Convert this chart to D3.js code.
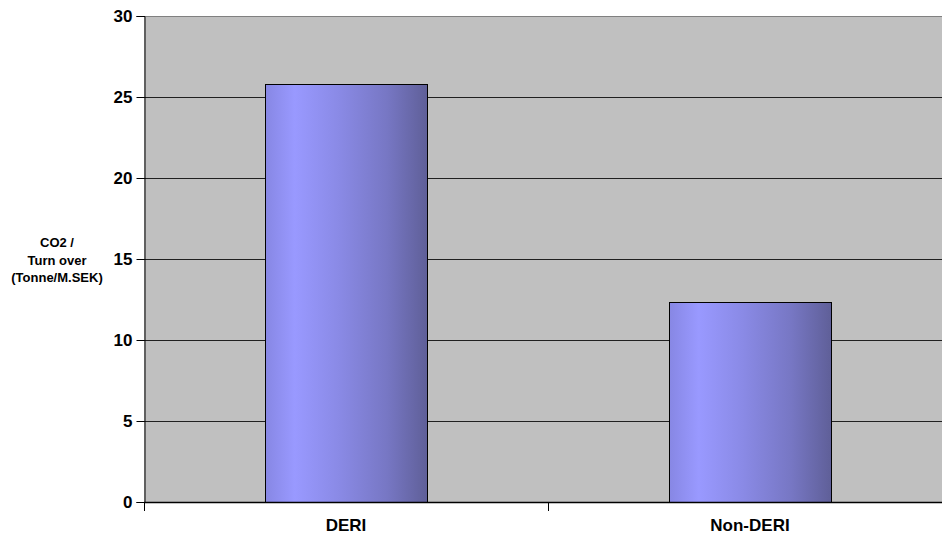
<!DOCTYPE html>
<html>
<head>
<meta charset="utf-8">
<script src="https://cdn.jsdelivr.net/npm/d3@7"></script>
<style>
  html, body { margin: 0; padding: 0; background: #ffffff; }
  svg { display: block; }
  text { font-family: "Liberation Sans", Arial, sans-serif; font-weight: bold; fill: #000; }
</style>
</head>
<body>
<svg id="chart" width="942" height="540"></svg>
<script>
// Categories and their CO2 intensity values
const categories = ["DERI", "Non-DERI"];
const co2PerTurnover = [25.8, 12.35];
const yTicks = [0, 5, 10, 15, 20, 25, 30];
const yTitleLines = ["CO2 /", "Turn over", "(Tonne/M.SEK)"];

const svg = d3.select("#chart");
const W = 942, H = 540;
const plot = { left: 144, right: 952, top: 16, bottom: 502 };

const x = d3.scaleBand()
  .domain(categories)
  .range([plot.left, plot.right])
  .paddingInner(0.6)
  .paddingOuter(0.3);

const y = d3.scaleLinear()
  .domain([0, 30])
  .range([plot.bottom, plot.top]);

// Horizontal shading for the bars
const defs = svg.append("defs");
const grad = defs.append("linearGradient")
  .attr("id", "barShade")
  .attr("x1", "0%").attr("x2", "100%")
  .attr("y1", "0%").attr("y2", "0%");
[
  { o: 0.00, c: "#8787e4" },
  { o: 0.18, c: "#9999ff" },
  { o: 0.45, c: "#8a8ae6" },
  { o: 0.75, c: "#7777c4" },
  { o: 1.00, c: "#5f5f98" }
].forEach(s => grad.append("stop").attr("offset", s.o).attr("stop-color", s.c));

// Plot background
svg.append("rect")
  .attr("x", plot.left).attr("y", plot.top)
  .attr("width", plot.right - plot.left)
  .attr("height", plot.bottom - plot.top)
  .attr("fill", "#c0c0c0");

// Top border
svg.append("line")
  .attr("x1", plot.left).attr("x2", plot.right)
  .attr("y1", plot.top + 0.5).attr("y2", plot.top + 0.5)
  .attr("stroke", "#808080").attr("stroke-width", 1);

// Horizontal gridlines
svg.append("g")
  .selectAll("line")
  .data(yTicks.filter(t => t > 0 && t < 30))
  .join("line")
  .attr("x1", plot.left).attr("x2", plot.right)
  .attr("y1", d => Math.round(y(d)) + 0.5)
  .attr("y2", d => Math.round(y(d)) + 0.5)
  .attr("stroke", "#202020").attr("stroke-width", 1);

// Bars
svg.append("g")
  .selectAll("rect")
  .data(categories.map((c, i) => ({ c, v: co2PerTurnover[i] })))
  .join("rect")
  .attr("x", d => Math.round(x(d.c)) + 0.5)
  .attr("y", d => Math.round(y(d.v)) + 0.5)
  .attr("width", Math.round(x.bandwidth()))
  .attr("height", d => Math.round(plot.bottom - y(d.v)))
  .attr("fill", "url(#barShade)")
  .attr("stroke", "#000")
  .attr("stroke-width", 1);

// Y axis
const yAxis = svg.append("g")
  .attr("transform", `translate(${plot.left + 0.5},0)`)
  .call(d3.axisLeft(y).tickValues(yTicks).tickSize(8).tickPadding(4).tickFormat(d3.format("d")));
yAxis.select(".domain").attr("stroke", "#000");
yAxis.selectAll(".tick line").attr("stroke", "#000");
yAxis.selectAll("text")
  .attr("font-size", 17)
  .attr("font-family", "Liberation Sans, Arial, sans-serif")
  .attr("font-weight", "bold");

// X axis with ticks at category boundaries
svg.append("line")
  .attr("x1", plot.left).attr("x2", plot.right)
  .attr("y1", plot.bottom + 0.5).attr("y2", plot.bottom + 0.5)
  .attr("stroke", "#000").attr("stroke-width", 1.5);
const step = x.step();
const boundaries = categories.map((c, i) => x(c) - x.paddingOuter() * step + (i === 0 ? 0 : 0));
svg.append("g")
  .selectAll("line")
  .data(categories.map((c, i) => plot.left + i * step))
  .join("line")
  .attr("x1", d => Math.round(d) + 0.5).attr("x2", d => Math.round(d) + 0.5)
  .attr("y1", plot.bottom).attr("y2", plot.bottom + 9)
  .attr("stroke", "#000");

svg.append("g")
  .selectAll("text")
  .data(categories)
  .join("text")
  .attr("x", d => x(d) + x.bandwidth() / 2)
  .attr("y", 531)
  .attr("text-anchor", "middle")
  .attr("font-size", 17)
  .text(d => d);

// Y axis title
svg.append("text")
  .attr("text-anchor", "middle")
  .attr("font-size", 13)
  .selectAll("tspan")
  .data(yTitleLines)
  .join("tspan")
  .attr("x", 57)
  .attr("y", (d, i) => 247 + i * 17.5)
  .text(d => d);
</script>
</body>
</html>
